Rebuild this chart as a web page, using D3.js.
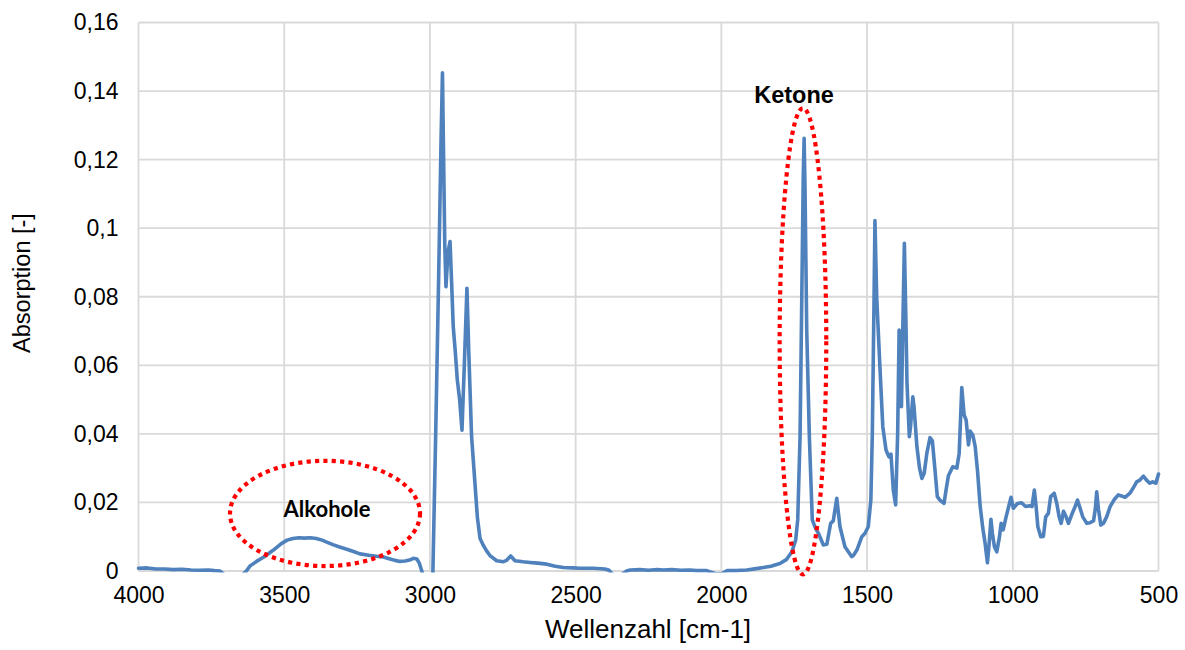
<!DOCTYPE html>
<html>
<head>
<meta charset="utf-8">
<script src="https://cdn.jsdelivr.net/npm/d3@7"></script>
<style>
  html, body { margin: 0; padding: 0; background: #fff; }
  svg { display: block; }
</style>
</head>
<body>
<svg id="chart" width="1185" height="650"></svg>
<script>
// IR spectrum: wavenumber [cm-1] and absorption [-]
const wavenumber = [
  4000, 3970, 3940, 3910, 3880, 3850, 3820, 3790, 3760, 3740, 3720, 3700, 3670, 3645, 3630,
  3617, 3595, 3570, 3537, 3510, 3490, 3470, 3450, 3430, 3410, 3390, 3370, 3350, 3333, 3310,
  3280, 3260, 3240, 3210, 3183, 3160, 3140, 3120, 3103, 3085, 3070, 3057, 3045, 3036, 3028,
  3015, 3000, 2990, 2980, 2970, 2962, 2957, 2953, 2949, 2945, 2938, 2931, 2926, 2920, 2913,
  2906, 2898, 2890, 2882, 2873, 2866, 2857, 2845, 2837, 2828, 2817, 2805, 2794, 2771, 2748,
  2736, 2723, 2708, 2680, 2657, 2630, 2599, 2570, 2542, 2510, 2485, 2440, 2400, 2385, 2371,
  2345, 2325, 2313, 2280, 2250, 2220, 2199, 2170, 2140, 2110, 2085, 2050, 2020, 2000, 1980,
  1950, 1913, 1880, 1856, 1830, 1799, 1776, 1758, 1745, 1738, 1730, 1724, 1719, 1716, 1713,
  1707, 1698, 1688, 1677, 1667, 1650, 1638, 1625, 1616, 1604, 1593, 1576, 1553, 1547, 1535,
  1518, 1507, 1496, 1487, 1482, 1476, 1473, 1467, 1456, 1446, 1435, 1425, 1418, 1410, 1402,
  1395, 1390, 1387, 1382, 1378, 1372, 1367, 1363, 1355, 1351, 1343, 1339, 1329, 1320, 1312,
  1304, 1295, 1284, 1276, 1267, 1259, 1250, 1236, 1229, 1221, 1206, 1192, 1184, 1175, 1167,
  1160, 1152, 1146, 1137, 1129, 1121, 1112, 1103, 1095, 1087, 1081, 1075, 1070, 1063, 1055,
  1046, 1040, 1033, 1023, 1014, 1006, 998, 984, 970, 956, 943, 934, 926, 920, 914,
  904, 895, 887, 878, 870, 858, 849, 841, 834, 826, 817, 809, 798, 786, 778,
  769, 760, 746, 735, 723, 717, 712, 706, 698, 689, 678, 666, 653, 638, 627,
  615, 598, 584, 575, 564, 552, 541, 530, 520, 509, 500
];
const absorption = [
  0.0008, 0.0009, 0.0006, 0.0006, 0.0004, 0.0005, 0.0003, 0.0002, 0.0003, 0.0001, 0.0000, -0.0015, -0.0025, -0.0012, 0.0000,
  0.0015, 0.0028, 0.0041, 0.0061, 0.0080, 0.0090, 0.0095, 0.0097, 0.0096, 0.0097, 0.0095, 0.0090, 0.0083, 0.0077, 0.0070,
  0.0062, 0.0056, 0.0050, 0.0046, 0.0043, 0.0041, 0.0036, 0.0031, 0.0028, 0.0029, 0.0032, 0.0037, 0.0035, 0.0022, 0.0000,
  -0.0040, -0.0040, -0.0010, 0.0410, 0.0860, 0.1250, 0.1453, 0.1200, 0.0950, 0.0829, 0.0930, 0.0961, 0.0850, 0.0713, 0.0640,
  0.0557, 0.0500, 0.0411, 0.0600, 0.0825, 0.0620, 0.0392, 0.0250, 0.0155, 0.0095, 0.0075, 0.0058, 0.0045, 0.0030, 0.0027,
  0.0032, 0.0044, 0.0030, 0.0027, 0.0025, 0.0023, 0.0020, 0.0014, 0.0010, 0.0009, 0.0008, 0.0008, 0.0006, 0.0002, -0.0012,
  -0.0012, 0.0000, 0.0003, 0.0004, 0.0002, 0.0004, 0.0003, 0.0004, 0.0002, 0.0003, 0.0001, 0.0001, -0.0008, -0.0008, 0.0001,
  0.0001, 0.0003, 0.0007, 0.0010, 0.0014, 0.0022, 0.0034, 0.0056, 0.0090, 0.0149, 0.0390, 0.0800, 0.1150, 0.1262, 0.1120,
  0.0700, 0.0390, 0.0149, 0.0125, 0.0110, 0.0076, 0.0078, 0.0139, 0.0146, 0.0212, 0.0129, 0.0071, 0.0042, 0.0045, 0.0061,
  0.0100, 0.0110, 0.0129, 0.0207, 0.0400, 0.0800, 0.1022, 0.0800, 0.0596, 0.0421, 0.0353, 0.0333, 0.0341, 0.0236, 0.0193,
  0.0402, 0.0703, 0.0650, 0.0479, 0.0680, 0.0956, 0.0742, 0.0548, 0.0392, 0.0420, 0.0508, 0.0480, 0.0363, 0.0300, 0.0270,
  0.0285, 0.0343, 0.0389, 0.0380, 0.0295, 0.0217, 0.0207, 0.0197, 0.0236, 0.0278, 0.0304, 0.0300, 0.0343, 0.0535, 0.0455,
  0.0440, 0.0368, 0.0408, 0.0396, 0.0363, 0.0292, 0.0190, 0.0125, 0.0081, 0.0024, 0.0081, 0.0151, 0.0110, 0.0071, 0.0056,
  0.0098, 0.0139, 0.0120, 0.0158, 0.0188, 0.0215, 0.0183, 0.0197, 0.0199, 0.0188, 0.0190, 0.0188, 0.0236, 0.0188, 0.0129,
  0.0100, 0.0101, 0.0158, 0.0168, 0.0217, 0.0227, 0.0197, 0.0158, 0.0139, 0.0174, 0.0158, 0.0139, 0.0164, 0.0188, 0.0207,
  0.0183, 0.0158, 0.0139, 0.0141, 0.0146, 0.0180, 0.0231, 0.0180, 0.0134, 0.0139, 0.0158, 0.0188, 0.0207, 0.0222, 0.0219,
  0.0215, 0.0227, 0.0246, 0.0260, 0.0265, 0.0277, 0.0265, 0.0256, 0.0260, 0.0256, 0.0283
];

// axis ticks
const xTicks = [4000, 3500, 3000, 2500, 2000, 1500, 1000, 500];
const yTicks = [0, 0.02, 0.04, 0.06, 0.08, 0.10, 0.12, 0.14, 0.16];
const yTickLabels = ["0", "0,02", "0,04", "0,06", "0,08", "0,1", "0,12", "0,14", "0,16"];

// annotated regions: [wavenumber centre, absorption centre, half width (cm-1), half height]
const regionNames = ["Alkohole", "Ketone"];
const regionCenter = [[3360, 0.0168], [1720, 0.0670]];
const regionRadius = [[326, 0.01535], [80, 0.0680]];

const xTitle = "Wellenzahl [cm-1]";
const yTitle = "Absorption [-]";

const svg = d3.select("#chart");
const W = 1185, H = 650;
const m = { left: 138.5, right: W - 1158.5, top: 22.5, bottom: H - 571 };

const x = d3.scaleLinear().domain([4000, 500]).range([m.left, W - m.right]);
const y = d3.scaleLinear().domain([0, 0.16]).range([H - m.bottom, m.top]);

const gridColor = "#d9d9d9";
const font = "'Liberation Sans', Arial, sans-serif";

// gridlines
const grid = svg.append("g");
grid.selectAll("line.h").data(yTicks).join("line")
  .attr("x1", x(4000)).attr("x2", x(500))
  .attr("y1", d => y(d)).attr("y2", d => y(d))
  .attr("stroke", gridColor).attr("stroke-width", 1.8);
grid.selectAll("line.v").data(xTicks).join("line")
  .attr("x1", d => x(d)).attr("x2", d => x(d))
  .attr("y1", y(0)).attr("y2", y(0.16))
  .attr("stroke", gridColor).attr("stroke-width", 1.8);

// axes (labels only, lines come from the grid)
const xAxis = d3.axisBottom(x).tickValues(xTicks).tickSize(0).tickPadding(16).tickFormat(d3.format("d"));
const gx = svg.append("g").attr("transform", `translate(0,${y(0)})`).call(xAxis);
gx.select(".domain").remove();
gx.selectAll("text").attr("font-family", font).attr("font-size", 23).attr("fill", "#000");

const yAxis = d3.axisLeft(y).tickValues(yTicks).tickSize(0).tickPadding(20)
  .tickFormat((d, i) => yTickLabels[i]);
const gy = svg.append("g").attr("transform", `translate(${x(4000)},0)`).call(yAxis);
gy.select(".domain").remove();
gy.selectAll("text").attr("font-family", font).attr("font-size", 23).attr("fill", "#000");

// axis titles
svg.append("text")
  .attr("x", 648).attr("y", 638)
  .attr("text-anchor", "middle")
  .attr("font-family", font).attr("font-size", 26).attr("fill", "#000")
  .text(xTitle);
svg.append("text")
  .attr("transform", `translate(30,283) rotate(-90)`)
  .attr("text-anchor", "middle")
  .attr("font-family", font).attr("font-size", 23.5).attr("fill", "#000")
  .text(yTitle);

// spectrum line, clipped at the plot area
svg.append("clipPath").attr("id", "plotClip")
  .append("rect")
  .attr("x", x(4000) - 3).attr("y", y(0.16) - 3)
  .attr("width", x(500) - x(4000) + 6).attr("height", y(0) - y(0.16) + 4.5);

const points = wavenumber.map((w, i) => ({ w, a: absorption[i] }));
const line = d3.line().x(d => x(d.w)).y(d => y(d.a));
svg.append("path")
  .datum(points)
  .attr("clip-path", "url(#plotClip)")
  .attr("d", line)
  .attr("fill", "none")
  .attr("stroke", "#4f81bd")
  .attr("stroke-width", 3.6)
  .attr("stroke-linejoin", "round")
  .attr("stroke-linecap", "round");

// dotted ellipses around the absorption bands
const ann = svg.append("g");
regionNames.forEach((name, i) => {
  const cx = x(regionCenter[i][0]), cy = y(regionCenter[i][1]);
  const rx = Math.abs(x(regionCenter[i][0] + regionRadius[i][0]) - cx);
  const ry = Math.abs(y(regionCenter[i][1] + regionRadius[i][1]) - cy);
  ann.append("ellipse")
    .attr("cx", cx).attr("cy", cy).attr("rx", rx).attr("ry", ry)
    .attr("fill", "none").attr("stroke", "#ff0000")
    .attr("stroke-width", 4.2).attr("stroke-dasharray", "4.2 4.2");
});

// band labels
ann.append("text")
  .attr("x", 327).attr("y", 516.5)
  .attr("text-anchor", "middle")
  .attr("font-family", "Lato, 'Open Sans', sans-serif").attr("font-weight", "bold")
  .attr("font-size", 22).attr("fill", "#000")
  .text(regionNames[0]);
ann.append("text")
  .attr("x", 794).attr("y", 102.5)
  .attr("text-anchor", "middle")
  .attr("font-family", font).attr("font-weight", "bold")
  .attr("font-size", 23.5).attr("fill", "#000")
  .text(regionNames[1]);
</script>
</body>
</html>
